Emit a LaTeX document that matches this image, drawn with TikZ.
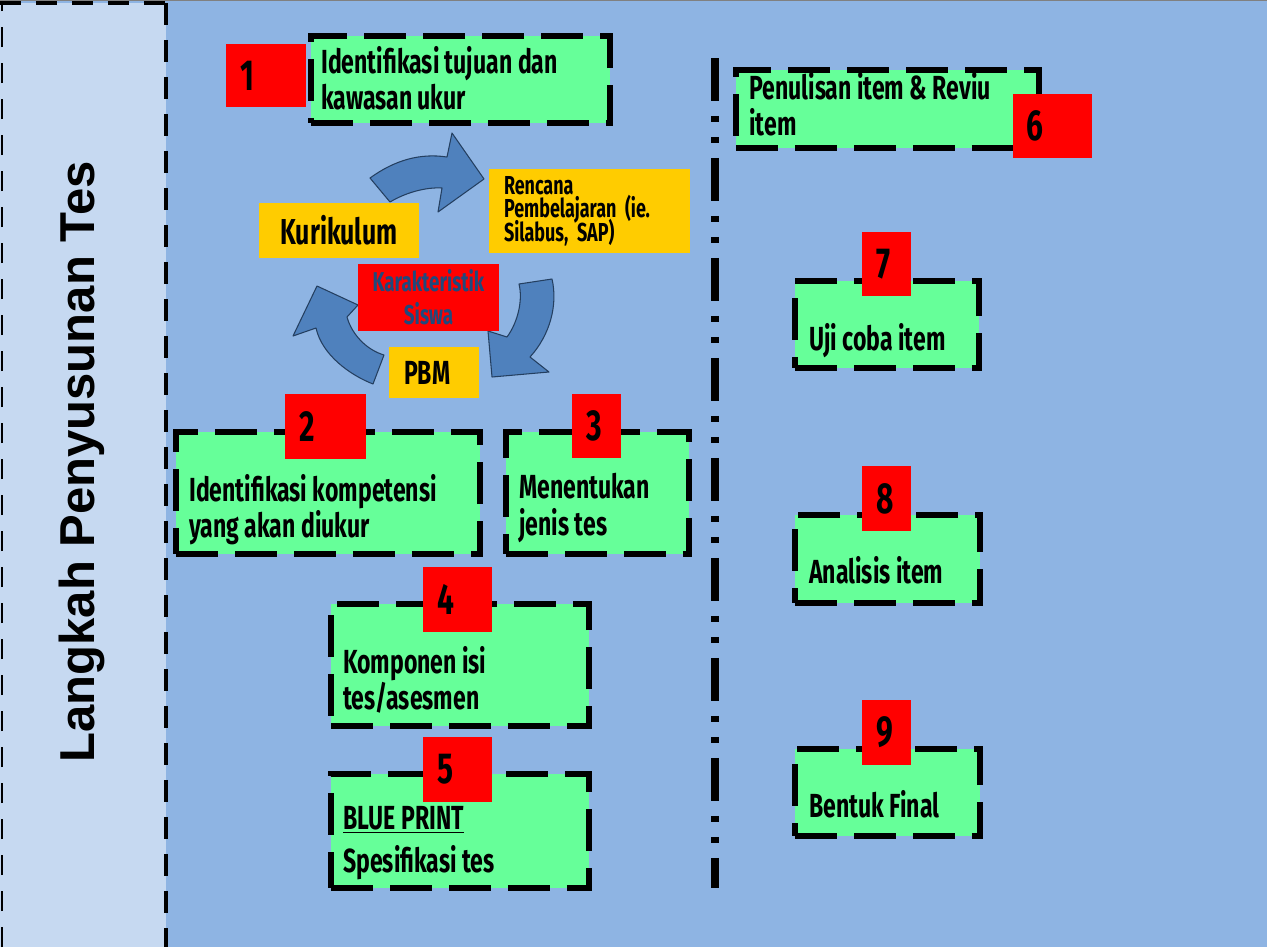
\documentclass[tikz,border=0pt]{standalone}
\usepackage{fontspec}
\usepackage{tikz}
\newfontfamily\agency{Fira Sans}[FakeStretch=0.69]
\newfontfamily\titlefont{Liberation Sans}
\protected\def\tightskip{\lineskiplimit=-20pt\relax}
\frenchspacing
\definecolor{bgblue}{HTML}{8EB4E3}
\definecolor{panelblue}{HTML}{C6D9F1}
\definecolor{boxgreen}{HTML}{66FF99}
\definecolor{boxyellow}{HTML}{FFCC00}
\definecolor{numred}{HTML}{FF0000}
\definecolor{arrowblue}{HTML}{4F81BD}
\definecolor{arrowline}{HTML}{243F60}
\definecolor{karblue}{HTML}{1F497D}

\begin{document}
\begin{tikzpicture}[
            x = 0.02cm,
            y = -0.02cm,
            stepbox/.style = {
                draw,
                line width = 3pt,
                dash pattern = on 0.84cm off 0.34cm,
                fill = boxgreen,
                inner sep = 0pt
            },
            boxtext/.style = {
                font = \agency\bfseries\fontsize{19}{20.5}\selectfont,
                align = left,
                inner sep = 0pt
            },
            numbox/.style = {
                fill = numred,
                inner xsep = 0.28cm,
                inner ysep = 0pt,
                align = left,
                font = \agency\bfseries\fontsize{24.7}{26}\selectfont
            },
            yellowbox/.style = {
                fill = boxyellow,
                inner xsep = 0.3cm,
                inner ysep = 0pt,
                font = \agency\bfseries\fontsize{19}{20.5}\selectfont
            },
            cyclearrow/.style = {
                fill = arrowblue,
                draw = arrowline,
                line width = 0.6pt,
                line join = round
            }
            ]
            \useasboundingbox (0,0) rectangle (1267,947);
            \fill[bgblue] (0,0) rectangle (1267,947);
            \draw[gray, line width = 1pt] (0,0.5) -- (1267,0.5);

            \fill[panelblue] (0,3) rectangle (166,947);
            \draw[line width = 1.5pt, dash pattern = on 0.4cm off 0.32cm] (2,947) -- (2,3);
            \draw[line width = 2.3pt, dash pattern = on 0.42cm off 0.3cm] (0,3) -- (166,3);
            \draw[line width = 2.8pt, dash pattern = on 0.44cm off 0.3cm] (166,3) -- (166,947);
            \node[rotate = 90, font = \titlefont\bfseries\fontsize{27.9}{30}\selectfont] (title) at (82,462) {Langkah Penyusunan Tes};

            \draw[line width = 4pt, dash pattern = on 0.86cm off 0.3cm on 0.12cm off 0.3cm on 0.12cm off 0.3cm] (715,58) -- (715,888);

            \draw[cyclearrow] (370,178) .. controls (395,160) and (420,153) .. (447,157) -- (452,133) -- (484,179) -- (438,212) -- (442,188) .. controls (425,187) and (405,193) .. (390,202) -- cycle;
            \draw[cyclearrow] (552,279) .. controls (558,305) and (550,335) .. (530,357) -- (549,372) -- (492,377) -- (488,331) -- (507,337) .. controls (518,322) and (523,300) .. (519,284) -- cycle;
            \draw[cyclearrow] (373,384) .. controls (350,375) and (322,355) .. (316,328) -- (293,336) -- (317,286) -- (358,305) -- (347,317) .. controls (352,335) and (367,350) .. (384,355) -- cycle;

            \node[yellowbox, minimum width = 3.2cm, minimum height = 1.1cm, font = \agency\bfseries\fontsize{20.5}{22}\selectfont] (kur) at (339,230.5) {Kurikulum};
            \node[yellowbox, text width = 3.42cm, minimum height = 1.7cm, align = left, font = \agency\bfseries\fontsize{14.8}{13.3}\selectfont\tightskip] (rpp) at (589.5,211) {Rencana\\Pembelajaran (ie.\\Silabus, SAP)};
            \node[yellowbox, text width = 1.2cm, minimum height = 1.02cm, align = left] (pbm) at (434,372.5) {PBM};
            \node[fill = numred, minimum width = 2.82cm, minimum height = 1.34cm, inner sep = 0pt, align = center, text = karblue, font = \agency\bfseries\fontsize{15.5}{18.7}\selectfont] (kar) at (428.5,297.5) {Karakteristik\\Siswa};

            \node[stepbox, minimum width = 5.98cm, minimum height = 1.74cm] (box1) at (460.5,79.5) {};
            \node[stepbox, minimum width = 6.06cm, minimum height = 1.56cm] (box6) at (887.5,109) {};
            \node[stepbox, minimum width = 6.08cm, minimum height = 2.44cm] (box2) at (328,493) {};
            \node[stepbox, minimum width = 3.66cm, minimum height = 2.44cm] (box3) at (597.5,493) {};
            \node[stepbox, minimum width = 5.16cm, minimum height = 2.44cm] (box4) at (460,665) {};
            \node[stepbox, minimum width = 5.16cm, minimum height = 2.28cm] (box5) at (460,831) {};
            \node[stepbox, minimum width = 3.68cm, minimum height = 1.74cm] (box7) at (887,324.5) {};
            \node[stepbox, minimum width = 3.7cm, minimum height = 1.76cm] (box8) at (887.5,559) {};
            \node[stepbox, minimum width = 3.7cm, minimum height = 1.74cm] (box9) at (887.5,792.5) {};

            \node[boxtext, anchor = west] (t1) at (321,78) {Identifikasi tujuan dan\\kawasan ukur};
            \node[boxtext, anchor = west] (t6) at (749,104) {Penulisan item \& Reviu\\item};
            \node[boxtext, anchor = west] (t2) at (189,510) {Identifikasi kompetensi\\yang akan diukur};
            \node[boxtext, anchor = west] (t3) at (519,508) {Menentukan\\jenis tes};
            \node[boxtext, anchor = west] (t4) at (343,680) {Komponen isi\\tes/asesmen};
            \node[boxtext, anchor = west] (t5) at (343,843) {\underline{BLUE PRINT}\\[4pt]Spesifikasi tes};
            \node[boxtext, anchor = base west] (t7) at (809,350) {Uji coba item};
            \node[boxtext, anchor = base west] (t8) at (809,583) {Analisis item};
            \node[boxtext, anchor = base west] (t9) at (809,817) {Bentuk Final};

            \node[numbox, text width = 1.04cm, minimum height = 1.26cm] (n1) at (266,75.5) {1};
            \node[numbox, text width = 1.02cm, minimum height = 1.28cm] (n6) at (1052,126) {6};
            \node[numbox, text width = 1.06cm, minimum height = 1.3cm] (n2) at (325.5,426.5) {2};
            \node[numbox, text width = 0.42cm, minimum height = 1.28cm] (n3) at (596.5,426) {3};
            \node[numbox, text width = 0.82cm, minimum height = 1.3cm] (n4) at (457.5,599.5) {4};
            \node[numbox, text width = 0.82cm, minimum height = 1.3cm] (n5) at (457.5,769.5) {5};
            \node[numbox, text width = 0.42cm, minimum height = 1.28cm] (n7) at (886.5,264) {7};
            \node[numbox, text width = 0.42cm, minimum height = 1.3cm] (n8) at (886.5,498.5) {8};
            \node[numbox, text width = 0.42cm, minimum height = 1.3cm] (n9) at (886.5,732.5) {9};
        \end{tikzpicture}
\end{document}
